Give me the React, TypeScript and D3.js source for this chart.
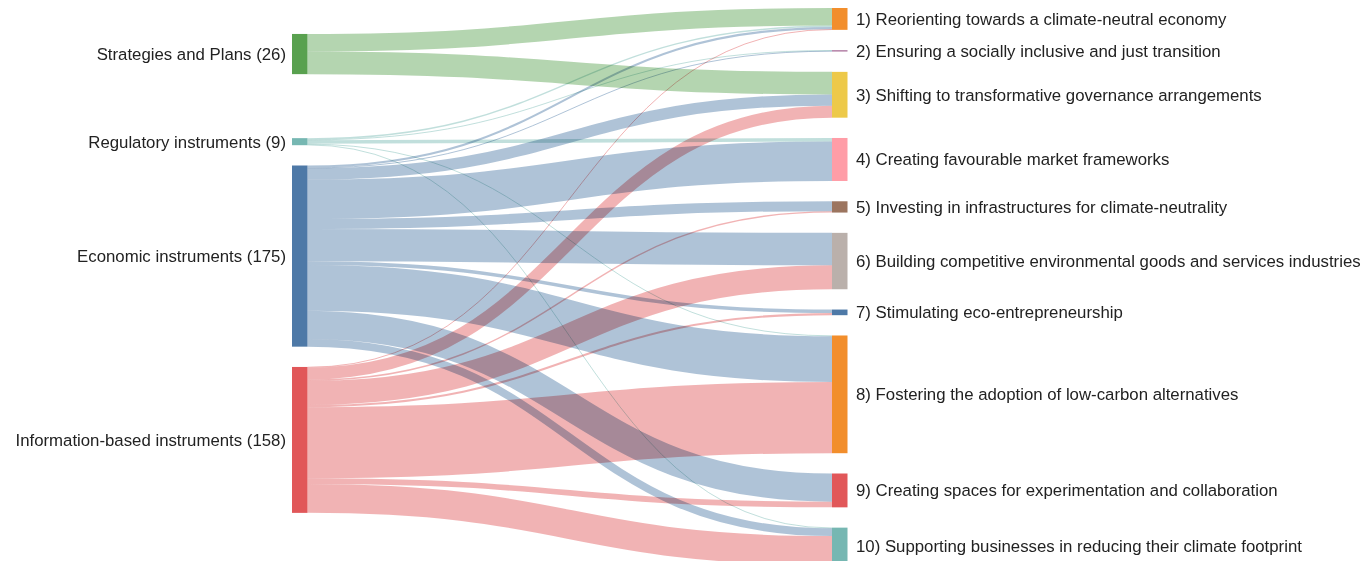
import { useMemo } from "react";
import * as d3 from "d3";

// instrument types (left column)
const instruments = [
  "Strategies and Plans (26)",
  "Regulatory instruments (9)",
  "Economic instruments (175)",
  "Information-based instruments (158)",
];

// objectives (right column)
const objectives = [
  "1) Reorienting towards a climate-neutral economy",
  "2) Ensuring a socially inclusive and just transition",
  "3) Shifting to transformative governance arrangements",
  "4) Creating favourable market frameworks",
  "5) Investing in infrastructures for climate-neutrality",
  "6) Building competitive environmental goods and services industries",
  "7) Stimulating eco-entrepreneurship",
  "8) Fostering the adoption of low-carbon alternatives",
  "9) Creating spaces for experimentation and collaboration",
  "10) Supporting businesses in reducing their climate footprint",
];

// flow from each instrument type to objectives 1..10 (0 = no link)
const strategiesFlows = [25, 0, 32, 0, 0, 0, 0, 0, 0, 0];
const regulatoryFlows = [2, 1, 0, 5, 0, 0, 0, 1, 0, 1];
const economicFlows = [3, 1, 16, 56, 14, 46, 5, 65, 40, 11];
const informationFlows = [1, 0, 17, 0, 2, 34, 3, 101, 8, 41];

// index into d3.schemeTableau10
const instrumentColors = [4, 3, 0, 2];
const objectiveColors = [1, 6, 5, 7, 8, 9, 0, 1, 2, 3];

interface SNode {
  name: string;
  col: number;
  value: number;
  x0: number;
  x1: number;
  y0: number;
  y1: number;
  color: string;
  out: SLink[];
  inc: SLink[];
}

interface SLink {
  source: SNode;
  target: SNode;
  value: number;
  width: number;
  y0: number;
  y1: number;
}

const WIDTH = 1365;
const HEIGHT = 561;
const extent = { x0: 292, x1: 847.5, y0: 8, y1: 565 };
const nodeWidth = 15.5;
const nodePadding = 20.3;

function shift(n: SNode, dy: number) {
  n.y0 += dy;
  n.y1 += dy;
}

function buildSankey() {
  const left: SNode[] = instruments.map((name, i) => ({
    name, col: 0, value: 0, x0: 0, x1: 0, y0: 0, y1: 0,
    color: d3.schemeTableau10[instrumentColors[i]], out: [], inc: [],
  }));
  const right: SNode[] = objectives.map((name, i) => ({
    name, col: 1, value: 0, x0: 0, x1: 0, y0: 0, y1: 0,
    color: d3.schemeTableau10[objectiveColors[i]], out: [], inc: [],
  }));

  const flows = [strategiesFlows, regulatoryFlows, economicFlows, informationFlows];
  const links: SLink[] = [];
  flows.forEach((row, s) =>
    row.forEach((v, t) => {
      if (v <= 0) return;
      const l: SLink = { source: left[s], target: right[t], value: v, width: 0, y0: 0, y1: 0 };
      links.push(l);
      left[s].out.push(l);
      right[t].inc.push(l);
    })
  );

  const columns = [left, right];
  for (const col of columns)
    for (const n of col)
      n.value = Math.max(d3.sum(n.out, (l) => l.value), d3.sum(n.inc, (l) => l.value));

  const ky = d3.min(columns, (c) => (extent.y1 - extent.y0 - (c.length - 1) * nodePadding) / d3.sum(c, (n) => n.value))!;
  const x = d3.scaleLinear().domain([0, 1]).range([extent.x0, extent.x1 - nodeWidth]);

  for (const col of columns) {
    let y = extent.y0;
    for (const n of col) {
      n.x0 = x(n.col);
      n.x1 = n.x0 + nodeWidth;
      n.y0 = y;
      n.y1 = y + n.value * ky;
      y = n.y1 + nodePadding;
    }
  }
  for (const l of links) l.width = l.value * ky;

  // link positions at the objectives (sources in fixed order)
  for (const n of right) {
    let y = n.y0;
    for (const l of n.inc) {
      l.y1 = y;
      y += l.width;
    }
  }

  // place each instrument where its links run as flat as possible
  for (const n of left) {
    let off = 0;
    let acc = 0;
    for (const l of n.out) {
      acc += l.value * (l.y1 - off);
      off += l.width;
    }
    shift(n, acc / n.value - n.y0);
  }

  // resolve overlaps: split the worst overlap (heavier node moves less),
  // then push the other nodes away from it
  let worst = -1;
  let worstOv = 0;
  for (let i = 0; i < left.length - 1; i++) {
    const ov = left[i].y1 + nodePadding - left[i + 1].y0;
    if (ov > worstOv) {
      worstOv = ov;
      worst = i;
    }
  }
  if (worst >= 0) {
    const a = left[worst];
    const b = left[worst + 1];
    const share = b.value / (a.value + b.value);
    shift(a, -worstOv * share);
    shift(b, worstOv * (1 - share));
    for (let i = worst - 1; i >= 0; i--) {
      const ov = left[i].y1 + nodePadding - left[i + 1].y0;
      if (ov > 0) shift(left[i], -ov);
    }
    for (let i = worst + 2; i < left.length; i++) {
      const ov = left[i - 1].y1 + nodePadding - left[i].y0;
      if (ov > 0) shift(left[i], ov);
    }
  }
  const last = left[left.length - 1];
  if (last.y1 > extent.y1) {
    shift(last, extent.y1 - last.y1);
    for (let i = left.length - 2; i >= 0; i--) {
      const ov = left[i].y1 + nodePadding - left[i + 1].y0;
      if (ov > 0) shift(left[i], -ov);
    }
  }
  if (left[0].y0 < extent.y0) {
    shift(left[0], extent.y0 - left[0].y0);
    for (let i = 1; i < left.length; i++) {
      const ov = left[i - 1].y1 + nodePadding - left[i].y0;
      if (ov > 0) shift(left[i], ov);
    }
  }

  for (const n of left) {
    let y = n.y0;
    for (const l of n.out) {
      l.y0 = y;
      y += l.width;
    }
  }

  return { nodes: [...left, ...right], links };
}

export default function App() {
  const { nodes, links } = useMemo(buildSankey, []);
  const linkPath = d3
    .linkHorizontal<SLink, [number, number]>()
    .source((l) => [l.source.x1, l.y0 + l.width / 2])
    .target((l) => [l.target.x0, l.y1 + l.width / 2]);

  return (
    <svg
      width={WIDTH}
      height={HEIGHT}
      style={{ position: "absolute", left: 0, top: 0, display: "block" }}
      fontFamily="'Liberation Sans', Arial, sans-serif"
      fontSize={16.8}
    >
      <g fill="none" style={{ isolation: "isolate" }}>
        {links.map((l, i) => (
          <path
            key={i}
            d={linkPath(l) ?? ""}
            stroke={l.source.color}
            strokeOpacity={0.45}
            strokeWidth={Math.max(1, l.width)}
            style={{ mixBlendMode: "multiply" }}
          />
        ))}
      </g>
      <g>
        {nodes.map((n, i) => (
          <rect key={i} x={n.x0} y={n.y0} width={n.x1 - n.x0} height={Math.max(1, n.y1 - n.y0)} fill={n.color} />
        ))}
      </g>
      <g fill="#222">
        {nodes.map((n, i) => (
          <text
            key={i}
            x={n.col === 0 ? n.x0 - 6 : n.x1 + 8.5}
            y={(n.y0 + n.y1) / 2}
            dy="0.35em"
            textAnchor={n.col === 0 ? "end" : "start"}
          >
            {n.name}
          </text>
        ))}
      </g>
    </svg>
  );
}
